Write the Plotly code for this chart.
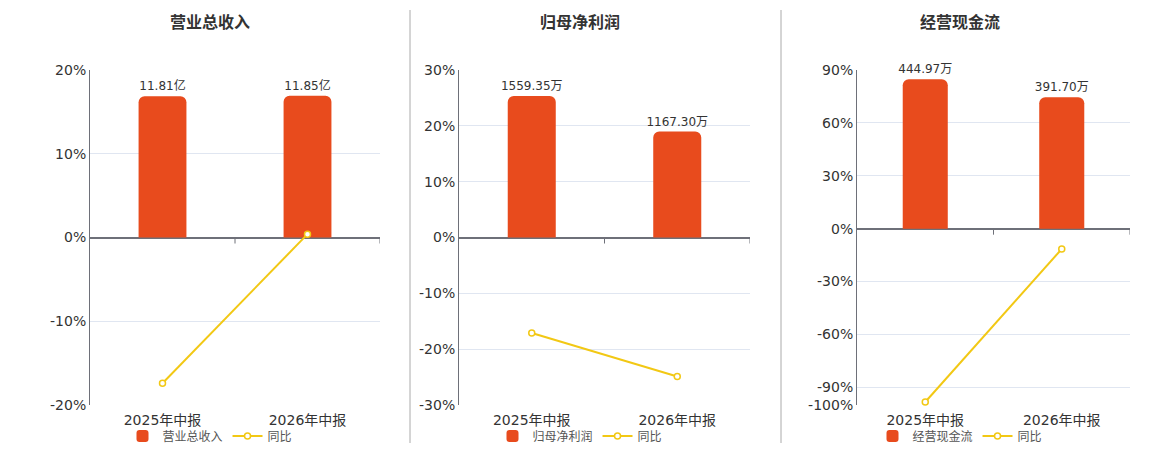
import plotly.graph_objects as go

categories = ["2025年中报", "2026年中报"]

titles = ["营业总收入", "归母净利润", "经营现金流"]

bar_values = [[11.81, 11.85], [1559.35, 1167.30], [444.97, 391.70]]
bar_labels = [["11.81亿", "11.85亿"], ["1559.35万", "1167.30万"], ["444.97万", "391.70万"]]

yoy_values = [[-17.4, 0.4], [-17.1, -24.9], [-98.3, -11.5]]

pct_ranges = [[-20, 20], [-30, 30], [-100, 90]]
pct_ticks = [[-20, -10, 0, 10, 20], [-30, -20, -10, 0, 10, 20, 30], [-100, -90, -60, -30, 0, 30, 60, 90]]
bar_axis_top = [14.0, 1845.0, 472.6]

BAR_COLOR = "#E84B1D"
LINE_COLOR = "#F2C814"
AXIS_COLOR = "#6E7079"
GRID_COLOR = "#E0E6F1"
FONT = "DejaVu Sans, Noto Sans CJK SC, sans-serif"

# the page body adds an 8px margin, so the figure is drawn 8px smaller
OFF = 8
W, H = 1160 - OFF, 450 - OFF


def px(x):
    return (x - OFF) / W


def py(y):
    return 1 - (y - OFF) / H


x_domains = [[px(90), px(380)], [px(459), px(750)], [px(857), px(1130)]]
title_x = [px(210), px(580), px(960)]
y_domain = [py(405), py(70)]

fig = go.Figure()
layout = dict(
    width=W, height=H,
    margin=dict(l=0, r=0, t=0, b=0, autoexpand=False),
    paper_bgcolor="white", plot_bgcolor="white",
    font=dict(family=FONT, color="#333333", size=12),
    barcornerradius=6,
    annotations=[], shapes=[],
)

for i in range(3):
    n = i + 1
    xa = "x" if n == 1 else f"x{n}"
    yb = "y" if n == 1 else f"y{2 * n - 1}"
    yp = f"y{2 * n}"
    yb_key = "yaxis" if yb == "y" else "yaxis" + yb[1:]
    yp_key = "yaxis" + yp[1:]
    xa_key = "xaxis" if xa == "x" else "xaxis" + xa[1:]
    leg = "legend" if n == 1 else f"legend{n}"

    fig.add_trace(go.Bar(
        x=categories, y=bar_values[i], name=titles[i],
        xaxis=xa, yaxis=yb, marker=dict(color=BAR_COLOR, line=dict(width=0)),
        width=0.33, text=bar_labels[i], textposition="outside",
        constraintext="none",
        textfont=dict(size=12, color="#333333"), cliponaxis=False,
        legend=leg, hoverinfo="skip",
    ))
    fig.add_trace(go.Scatter(
        x=categories, y=yoy_values[i], name="同比", mode="lines+markers",
        xaxis=xa, yaxis=yp,
        line=dict(color=LINE_COLOR, width=2),
        marker=dict(symbol="circle", size=6, color="white", line=dict(color=LINE_COLOR, width=1.5)),
        legend=leg, cliponaxis=False,
    ))

    lo, hi = pct_ranges[i]
    top = bar_axis_top[i]
    layout[xa_key] = dict(
        domain=x_domains[i], anchor=yb, type="category",
        range=[-0.5, len(categories) - 0.5],
        showline=False, showgrid=False, ticks="",
        tickfont=dict(size=14, color="#333333"), ticklabelstandoff=5,
    )
    layout[yb_key] = dict(
        domain=y_domain, anchor=xa, range=[top * lo / hi, top],
        showticklabels=False, showgrid=False, zeroline=False, showline=False, ticks="",
    )
    layout[yp_key] = dict(
        overlaying=yb, anchor=xa, side="left", range=[lo, hi],
        tickvals=pct_ticks[i], ticktext=[f"{v}%" for v in pct_ticks[i]],
        tickfont=dict(size=14, color="#333333"),
        showline=True, linecolor=AXIS_COLOR, linewidth=1,
        showgrid=True, gridcolor=GRID_COLOR, gridwidth=1,
        zeroline=True, zerolinecolor=AXIS_COLOR, zerolinewidth=2,
        ticks="",
    )
    layout[leg] = dict(
        x=title_x[i], xanchor="center", y=py(436), yanchor="middle",
        orientation="h", font=dict(size=12, color="#555555"),
        bgcolor="rgba(0,0,0,0)", itemwidth=30, tracegroupgap=0,
    )
    layout["annotations"].append(dict(
        text=f"<b>{titles[i]}</b>", x=title_x[i], y=py(22),
        xref="paper", yref="paper", xanchor="center", yanchor="middle",
        showarrow=False, font=dict(size=16, color="#333333"),
    ))
    # category boundary ticks on the zero line
    for b in range(len(categories)):
        layout["shapes"].append(dict(
            type="line", xref=xa, yref=yp, x0=b + 0.5, x1=b + 0.5,
            ysizemode="pixel", yanchor=0, y0=0, y1=-6,
            line=dict(color=AXIS_COLOR, width=1),
        ))

for xd in [410, 781]:
    layout["shapes"].append(dict(
        type="line", xref="paper", yref="paper", x0=px(xd), x1=px(xd),
        y0=py(443), y1=py(10), line=dict(color="#AAAAAA", width=1),
    ))

fig.update_layout(**layout)
fig.write_html("out.html")
